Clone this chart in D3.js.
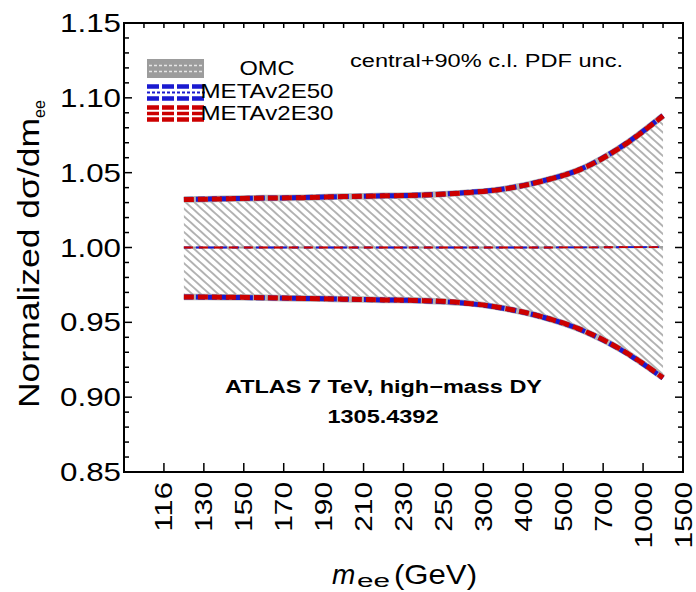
<!DOCTYPE html>
<html>
<head>
<meta charset="utf-8">
<script src="https://cdn.jsdelivr.net/npm/d3@7"></script>
<style>
  body { margin: 0; background: #fff; }
  svg { display: block; }
  text { font-family: "Liberation Sans", Arial, Helvetica, sans-serif; fill: #000; }
</style>
</head>
<body>
<svg id="chart" width="696" height="592"></svg>
<script>
// Mass bin edges (GeV) shown on the x axis; each value is drawn at its bin centre.
const massEdges = ["116", "130", "150", "170", "190", "210", "230", "250", "300", "400", "500", "700", "1000", "1500"];
const yTickValues = [0.85, 0.90, 0.95, 1.00, 1.05, 1.10, 1.15];
const seriesNames = ["OMC", "METAv2E50", "METAv2E30"];

// Normalized dσ/dm_ee: central value and 90% c.l. PDF band edges per mass bin.
const omcUpper   = [1.0320, 1.0325, 1.0330, 1.0333, 1.0340, 1.0345, 1.0350, 1.0365, 1.0390, 1.0445, 1.0530, 1.0680, 1.0880];
const omcCentral = [1.0000, 1.0000, 1.0000, 1.0000, 1.0000, 1.0000, 1.0000, 1.0000, 1.0000, 1.0000, 1.0001, 1.0002, 1.0003];
const omcLower   = [0.9670, 0.9668, 0.9665, 0.9660, 0.9655, 0.9650, 0.9645, 0.9630, 0.9595, 0.9535, 0.9445, 0.9310, 0.9130];

const e50Upper   = [1.0321, 1.0326, 1.0330, 1.0334, 1.0340, 1.0345, 1.0351, 1.0366, 1.0391, 1.0446, 1.0531, 1.0682, 1.0882];
const e50Central = [1.0000, 1.0000, 1.0000, 1.0000, 1.0000, 1.0000, 1.0000, 1.0000, 1.0000, 1.0000, 1.0001, 1.0002, 1.0003];
const e50Lower   = [0.9669, 0.9667, 0.9664, 0.9660, 0.9655, 0.9650, 0.9644, 0.9629, 0.9594, 0.9534, 0.9444, 0.9308, 0.9128];

const e30Upper   = [1.0320, 1.0325, 1.0330, 1.0333, 1.0340, 1.0345, 1.0350, 1.0365, 1.0390, 1.0445, 1.0530, 1.0680, 1.0880];
const e30Central = [1.0000, 1.0000, 1.0000, 1.0000, 1.0000, 1.0000, 1.0000, 1.0000, 1.0000, 1.0000, 1.0001, 1.0002, 1.0003];
const e30Lower   = [0.9670, 0.9668, 0.9665, 0.9660, 0.9655, 0.9650, 0.9645, 0.9630, 0.9595, 0.9535, 0.9445, 0.9310, 0.9130];

const svg = d3.select("#chart");
const frame = { left: 124, right: 683, top: 23, bottom: 472 };

// Bin index scale: edge i sits at index i, bin centres at i + 0.5.
const x = d3.scaleLinear().domain([-1, 13]).range([frame.left, frame.right]);
const y = d3.scaleLinear().domain([0.85, 1.15]).range([frame.bottom, frame.top]);
const centres = d3.range(omcUpper.length).map(i => i + 0.5);

// Diagonal hatch for the OMC band
const defs = svg.append("defs");
const hatch = defs.append("pattern")
  .attr("id", "hatch")
  .attr("patternUnits", "userSpaceOnUse")
  .attr("width", 20).attr("height", 5.8)
  .attr("patternTransform", "rotate(42)");
hatch.append("line")
  .attr("x1", 0).attr("x2", 20).attr("y1", 2.9).attr("y2", 2.9)
  .attr("stroke", "#8c8c8c").attr("stroke-width", 1.3);

const curve = d3.curveMonotoneX;
const band = d3.area()
  .x((d, i) => x(centres[i]))
  .y0(d => y(d[0]))
  .y1(d => y(d[1]))
  .curve(curve);
const line = d3.line()
  .x((d, i) => x(centres[i]))
  .y(d => y(d))
  .curve(curve);

const plot = svg.append("g");
plot.append("path")
  .datum(omcLower.map((v, i) => [v, omcUpper[i]]))
  .attr("d", band)
  .attr("fill", "url(#hatch)");

// Band edges: OMC grey underlay, METAv2E50 blue dashes, METAv2E30 red dashes on top
const edgeSets = [
  { data: [omcUpper, omcLower], stroke: "#b4b4b4", width: 6.5, dash: null },
  { data: [e50Upper, e50Lower], stroke: "#1a1ad0", width: 5, dash: "9,3" },
  { data: [e30Upper, e30Lower], stroke: "#cc0000", width: 5, dash: "10,4" }
];
edgeSets.forEach(s => {
  s.data.forEach(arr => {
    plot.append("path")
      .attr("d", line(arr))
      .attr("fill", "none")
      .attr("stroke", s.stroke)
      .attr("stroke-width", s.width)
      .attr("stroke-dasharray", s.dash)
      .attr("stroke-linecap", "butt");
  });
});

const centralSets = [
  { data: omcCentral, stroke: "#a0a0a0", width: 2.2, dash: null },
  { data: e50Central, stroke: "#1a1ad0", width: 1.8, dash: "7,5" },
  { data: e30Central, stroke: "#cc0000", width: 1.8, dash: "9,6" }
];
centralSets.forEach(s => {
  plot.append("path")
    .attr("d", line(s.data))
    .attr("fill", "none")
    .attr("stroke", s.stroke)
    .attr("stroke-width", s.width)
    .attr("stroke-dasharray", s.dash);
});

// Frame
svg.append("rect")
  .attr("x", frame.left).attr("y", frame.top)
  .attr("width", frame.right - frame.left).attr("height", frame.bottom - frame.top)
  .attr("fill", "none").attr("stroke", "#000").attr("stroke-width", 2);

const ticks = svg.append("g").attr("stroke", "#000").attr("stroke-width", 1.5);

// Vertical ticks on both sides: minor every 0.01, major every 0.05
d3.range(85, 116).forEach(k => {
  const v = k / 100, major = k % 5 === 0, len = major ? 8 : 5;
  ticks.append("line").attr("x1", frame.left).attr("x2", frame.left + len).attr("y1", y(v)).attr("y2", y(v));
  ticks.append("line").attr("x1", frame.right).attr("x2", frame.right - len).attr("y1", y(v)).attr("y2", y(v));
});

// Bottom ticks at the bin edges, top ticks every half bin
d3.range(0, massEdges.length - 1).forEach(i => {
  ticks.append("line").attr("x1", x(i)).attr("x2", x(i)).attr("y1", frame.bottom).attr("y2", frame.bottom - 9);
});
d3.range(-0.5, 13, 0.5).forEach(i => {
  ticks.append("line").attr("x1", x(i)).attr("x2", x(i)).attr("y1", frame.top).attr("y2", frame.top + 5);
});

// Y tick labels
svg.append("g").selectAll("text")
  .data(yTickValues).join("text")
  .attr("x", 121).attr("y", d => y(d) + 9)
  .attr("text-anchor", "end")
  .attr("font-size", 25)
  .attr("textLength", 61).attr("lengthAdjust", "spacingAndGlyphs")
  .text(d => d.toFixed(2));

// X tick labels, rotated
svg.append("g").selectAll("text")
  .data(massEdges).join("text")
  .attr("transform", (d, i) => `translate(${x(i) + 8.5},482) rotate(-90)`)
  .attr("text-anchor", "end")
  .attr("font-size", 24)
  .attr("textLength", d => 16.6 * d.length).attr("lengthAdjust", "spacingAndGlyphs")
  .text(d => d);

// X axis title: m_ee(GeV)
const xt = svg.append("text").attr("y", 584).attr("font-size", 28);
xt.append("tspan").attr("x", 332).attr("font-style", "italic").text("m");
xt.append("tspan").attr("x", 357).attr("dy", 3).attr("font-size", 18)
  .attr("textLength", 33).attr("lengthAdjust", "spacingAndGlyphs").text("ee");
xt.append("tspan").attr("x", 394).attr("dy", -3)
  .attr("textLength", 83).attr("lengthAdjust", "spacingAndGlyphs").text("(GeV)");

// Y axis title: Normalized dσ/dm_ee
const yt = svg.append("text")
  .attr("transform", "translate(39,408) rotate(-90)")
  .attr("font-size", 29);
yt.append("tspan").attr("x", 0).attr("textLength", 290).attr("lengthAdjust", "spacingAndGlyphs")
  .text("Normalized dσ/dm");
yt.append("tspan").attr("x", 290).attr("dy", 6).attr("font-size", 17)
  .attr("textLength", 18).attr("lengthAdjust", "spacingAndGlyphs").text("ee");

// Legend
const legend = svg.append("g");
// OMC swatch: grey block with light dashes
legend.append("rect").attr("x", 147).attr("y", 59).attr("width", 57).attr("height", 19).attr("fill", "#9c9c9c");
[65.5, 71.5].forEach(yy => legend.append("line")
  .attr("x1", 149).attr("x2", 203).attr("y1", yy).attr("y2", yy)
  .attr("stroke", "#e6e6e6").attr("stroke-width", 1.4).attr("stroke-dasharray", "3,2"));
// METAv2E50 and METAv2E30 swatches: rows of dashes
const swatchRows = [
  { top: 84, color: "#1a1ad0", widths: [4.5, 2, 4.5], dashes: ["12,3", "3,2", "12,3"] },
  { top: 105, color: "#cc0000", widths: [4.5, 3.5, 4.5], dashes: ["12,3", "12,3", "12,3"] }
];
swatchRows.forEach(s => {
  [2.5, 8.5, 14.5].forEach((off, j) => legend.append("line")
    .attr("x1", 147).attr("x2", 205).attr("y1", s.top + off).attr("y2", s.top + off)
    .attr("stroke", s.color).attr("stroke-width", s.widths[j]).attr("stroke-dasharray", s.dashes[j]));
});
const legendText = [
  { name: seriesNames[0], y: 75, len: 55 },
  { name: seriesNames[1], y: 98, len: 133 },
  { name: seriesNames[2], y: 120, len: 133 }
];
legend.selectAll("text.lab").data(legendText).join("text")
  .attr("class", "lab")
  .attr("x", 267).attr("y", d => d.y)
  .attr("text-anchor", "middle").attr("font-size", 21)
  .attr("textLength", d => d.len).attr("lengthAdjust", "spacingAndGlyphs")
  .text(d => d.name);

// Annotations
svg.append("text").attr("x", 350).attr("y", 67).attr("font-size", 18)
  .attr("textLength", 273).attr("lengthAdjust", "spacingAndGlyphs")
  .text("central+90% c.l. PDF unc.");
svg.append("text").attr("x", 383.5).attr("y", 393).attr("text-anchor", "middle")
  .attr("font-size", 18).attr("font-weight", "bold")
  .attr("textLength", 317).attr("lengthAdjust", "spacingAndGlyphs")
  .text("ATLAS 7 TeV, high\u2212mass DY");
svg.append("text").attr("x", 383).attr("y", 423).attr("text-anchor", "middle")
  .attr("font-size", 18).attr("font-weight", "bold")
  .attr("textLength", 111).attr("lengthAdjust", "spacingAndGlyphs")
  .text("1305.4392");
</script>
</body>
</html>
